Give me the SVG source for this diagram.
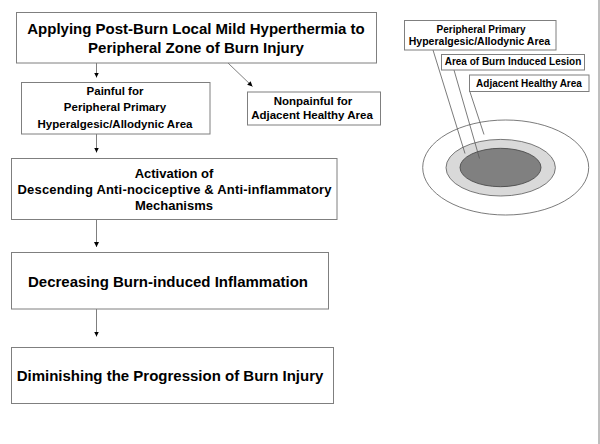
<svg xmlns="http://www.w3.org/2000/svg" width="600" height="444" viewBox="0 0 600 444">
<defs>
<style>
.box{fill:#fff;stroke:#7f7f7f;stroke-width:1}
.t{font-family:"Liberation Sans",Arial,sans-serif;font-weight:bold;fill:#000;text-anchor:middle}
.c{stroke:#7f7f7f;stroke-width:1;fill:none}
.ld{stroke:#595959;stroke-width:0.8;fill:none}
</style>
<marker id="ah" markerWidth="6" markerHeight="6" refX="5" refY="3" orient="auto" markerUnits="userSpaceOnUse">
<path d="M0,0.5 L5,3 L0,5.5 Z" fill="#000"/>
</marker>
</defs>
<rect x="0" y="0" width="600" height="444" fill="#fff"/>
<line x1="599" y1="0" x2="599" y2="444" stroke="#7f7f7f" stroke-width="1"/>

<g id="n1">
<rect class="box" x="16.5" y="12.5" width="360" height="50.5"/>
<text class="t" x="196" y="34" font-size="15">Applying Post-Burn Local Mild Hyperthermia to</text>
<text class="t" x="196" y="52.5" font-size="15">Peripheral Zone of Burn Injury</text>
</g>
<g id="n2">
<rect class="box" x="21.5" y="82.5" width="188.5" height="51.5"/>
<text class="t" x="115" y="95" font-size="11.5">Painful for</text>
<text class="t" x="115" y="111" font-size="11.5">Peripheral Primary</text>
<text class="t" x="115" y="127.5" font-size="11.5">Hyperalgesic/Allodynic Area</text>
</g>
<g id="n3">
<rect class="box" x="247.5" y="92" width="133" height="33"/>
<text class="t" x="313" y="105" font-size="11.5">Nonpainful for</text>
<text class="t" x="312" y="119" font-size="11.5">Adjacent Healthy Area</text>
</g>
<g id="n4">
<rect class="box" x="11.5" y="158.5" width="325.5" height="61"/>
<text class="t" x="174" y="177.5" font-size="13">Activation of</text>
<text class="t" x="174.5" y="194" font-size="13" textLength="314" lengthAdjust="spacing">Descending Anti-nociceptive &amp; Anti-inflammatory</text>
<text class="t" x="174" y="209.5" font-size="13">Mechanisms</text>
</g>
<g id="n5">
<rect class="box" x="11.5" y="252.5" width="317" height="56.5"/>
<text class="t" x="168" y="286.5" font-size="15">Decreasing Burn-induced Inflammation</text>
</g>
<g id="n6">
<rect class="box" x="11.5" y="347.5" width="322" height="56"/>
<text class="t" x="170" y="381" font-size="15">Diminishing the Progression of Burn Injury</text>
</g>

<g id="connectors">
<line class="c" x1="96.5" y1="63" x2="96.5" y2="77.5" marker-end="url(#ah)"/>
<line class="c" x1="228" y1="63" x2="252.5" y2="86.5" marker-end="url(#ah)"/>
<line class="c" x1="96.5" y1="134" x2="96.5" y2="152.5" marker-end="url(#ah)"/>
<line class="c" x1="96.5" y1="219.5" x2="96.5" y2="247" marker-end="url(#ah)"/>
<line class="c" x1="96.5" y1="309" x2="96.5" y2="336.5" marker-end="url(#ah)"/>
</g>

<g id="lesion-diagram">
<ellipse cx="505.7" cy="167.5" rx="83" ry="47.5" fill="#fff" stroke="#595959" stroke-width="0.8"/>
<ellipse cx="500.7" cy="167.7" rx="54.7" ry="28.3" fill="#d9d9d9" stroke="#595959" stroke-width="0.8"/>
<ellipse cx="500.5" cy="167.5" rx="40.5" ry="19.2" fill="#808080" stroke="#404040" stroke-width="0.8"/>
<line class="ld" x1="433" y1="50" x2="465" y2="153.5"/>
<line class="ld" x1="454" y1="70" x2="479.5" y2="158.5"/>
<line class="ld" x1="470" y1="92" x2="484" y2="134.5"/>
</g>
<g id="label-a">
<rect class="box" x="404.5" y="20.5" width="151.5" height="29.5"/>
<text class="t" x="481" y="32.5" font-size="10">Peripheral Primary</text>
<text class="t" x="479.5" y="44.5" font-size="10.5">Hyperalgesic/Allodynic Area</text>
</g>
<g id="label-b">
<rect class="box" x="441.5" y="54.5" width="143" height="15.5"/>
<text class="t" x="513" y="65" font-size="10">Area of Burn Induced Lesion</text>
</g>
<g id="label-c">
<rect class="box" x="469.5" y="75" width="119.5" height="16.5"/>
<text class="t" x="529" y="86.5" font-size="10">Adjacent Healthy Area</text>
</g>
</svg>
